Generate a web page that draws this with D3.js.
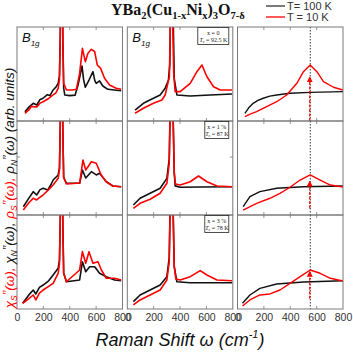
<!DOCTYPE html>
<html>
<head>
<meta charset="utf-8">
<script src="https://cdn.jsdelivr.net/npm/d3@7"></script>
<style>
  body { margin: 0; background: #fff; }
  svg { display: block; }
</style>
</head>
<body>
<svg id="chart" width="353" height="352"></svg>
<script>
// ---- data (x in cm^-1, y in arb. units) ----
const xTicks = [0, 200, 400, 600, 800];
const innerTicks = [200, 400, 600];

// column 1: measured spectra
const exp1_100K = [[60,9.9],[92,15],[123,18.8],[150,17],[175,23],[198,24.2],[230,28],[250,27],[274,33],[295,36],[312,40],[322,48],[328,90],[334,180],[342,180],[348,80],[354,35],[362,27.7],[400,27],[440,27.5],[463,38.3],[493,58.5],[505,44],[518,35.9],[546,43.6],[576,52.5],[590,43],[601,40.1],[626,42.6],[651,37.2],[689,33.7],[740,33],[790,32.2]];
const exp1_10K  = [[60,8.2],[92,12],[110,16],[123,15.2],[150,15],[175,19],[198,20.5],[240,24],[274,27.7],[295,30],[312,34.8],[322,44],[328,90],[334,180],[342,180],[348,85],[354,40],[375,33],[420,33],[450,33.7],[475,50.7],[496,77.3],[518,63.1],[538,72],[564,76.3],[589,73.7],[609,59.6],[634,56],[664,45.4],[702,38.3],[752,34.8],[790,33.7]];
const exp2_100K = [[48,8.8],[90,18],[123,24.8],[149,21.3],[175,27],[198,28.4],[234,26.6],[260,33],[274,37.2],[312,42.6],[322,50],[328,95],[334,180],[342,180],[348,85],[354,40],[375,33.7],[475,33.7],[496,47.9],[521,39.4],[564,46.1],[601,42.6],[626,44.4],[677,35.4],[727,30.9],[790,30.1]];
const exp2_10K  = [[48,5.3],[90,13],[123,17.8],[149,16],[175,19],[198,21.3],[240,27],[274,31.9],[312,39],[322,48],[328,95],[334,180],[342,180],[348,85],[354,40],[375,33],[475,34],[500,58.5],[521,47.9],[564,56.7],[601,55],[638,42.6],[677,35.4],[727,30.9],[790,30.1]];
const exp3_100K = [[43,6.1],[90,15],[123,20.2],[143,16],[170,23],[198,25.5],[240,30],[274,36.2],[312,43.3],[322,52],[328,95],[334,180],[342,180],[348,85],[354,38],[375,29],[475,30.9],[496,50.3],[521,39.7],[551,45],[589,45],[626,38],[677,34.4],[740,30.9],[790,30.1]];
const exp3_10K  = [[43,6.1],[90,11],[123,14.9],[143,9.6],[170,17],[198,20.2],[240,24],[274,27.3],[312,38],[322,48],[328,95],[334,180],[342,180],[348,85],[354,38],[375,29],[475,41.5],[496,61],[521,48.6],[546,61],[576,48.6],[614,50.3],[640,41.5],[677,32.7],[740,32.7],[790,30.9]];

// column 2: spectra with normal-state background
const bg1_100K = [[59,11.7],[122,18.8],[198,24.2],[249,27.7],[287,34.8],[312,43.6],[322,60],[328,120],[334,200],[342,200],[348,110],[356,45],[376,27.7],[477,26.6],[629,27.7],[796,28.7]];
const bg1_10K  = [[59,8.2],[122,13.5],[198,18.8],[262,22.3],[287,27.7],[319,47],[325,90],[331,200],[339,200],[345,100],[352,50],[363,31.2],[401,31.2],[477,40.1],[528,52.5],[566,59.6],[604,47.1],[654,36.5],[705,33],[794,33]];
const bg2_100K = [[46,10.6],[97,17.8],[173,23.1],[249,28.4],[300,39],[318,60],[326,120],[332,200],[342,200],[348,100],[356,45],[363,31],[401,29.5],[553,29.8],[796,30.1]];
const bg2_10K  = [[46,7.1],[97,12.4],[173,16.7],[249,23.1],[300,33.7],[318,55],[326,120],[332,200],[342,200],[348,100],[356,45],[365,33],[401,31.9],[477,35.4],[540,41.5],[604,35.4],[680,30.9],[794,30.1]];
const bg3_100K = [[46,7.8],[97,14.9],[173,20.2],[249,25.5],[300,34.4],[318,55],[326,120],[332,200],[342,200],[348,100],[356,45],[376,29],[477,28],[796,28]];
const bg3_10K  = [[46,4.3],[97,9.6],[173,14.9],[249,20.2],[300,30.9],[318,50],[326,120],[332,200],[342,200],[348,100],[356,45],[368,32],[401,30.9],[477,34.4],[553,40.8],[604,36.2],[680,30.9],[794,30.1]];

// column 3: model curves
const th1_100K = [[56,8.2],[85,14],[119,18.8],[155,22],[195,24.2],[245,26.5],[297,27.7],[398,29.5],[551,30.5],[800,31.2]];
const th1_10K  = [[56,4.6],[100,7.5],[145,9.9],[221,15.2],[297,20.5],[373,27.7],[450,40.1],[500,52.5],[551,59.6],[602,52.5],[652,41.8],[728,35.9],[800,33]];
const th2_100K = [[43,8.8],[94,19.5],[170,24.8],[297,28.4],[500,30.1],[800,30.9]];
const th2_10K  = [[43,5.3],[145,12.4],[246,17.8],[322,23.1],[398,29.5],[475,37.2],[551,42.6],[627,37.2],[704,31.9],[800,29.8]];
const th3_100K = [[38,6.1],[94,14.9],[170,22],[297,26.6],[500,28.7],[800,30.1]];
const th3_10K  = [[38,3.2],[94,9.6],[170,14.9],[246,16],[322,20.2],[398,27.3],[475,34.4],[551,41.5],[627,38],[704,32.7],[800,29.8]];

const gapEnergy = 552;               // dotted line / arrow position
const arrowSpans = [[0, 47], [7, 36], [11, 40]];
const boxLabels = [["x = 0", "92.5 K"], ["x = 1 %", "87 K"], ["x = 3 %", "78 K"]];
const legendLabels = ["T= 100 K", "T = 10 K"];

// ---- layout ----
const colX = [17, 127.3, 237.5], pw = 105.5;
const rowY = [27, 121, 215], ph = 94;
const RED = "#ff0000", BLACK = "#111";

const svg = d3.select("#chart");
const defs = svg.append("defs");
defs.append("marker").attr("id", "arr").attr("viewBox", "0 0 10 10")
  .attr("refX", 9).attr("refY", 5).attr("markerWidth", 5).attr("markerHeight", 6)
  .attr("orient", "auto")
  .append("path").attr("d", "M0,0L10,5L0,10z").attr("fill", RED);

const series = [
  [[exp1_100K, exp1_10K], [bg1_100K, bg1_10K], [th1_100K, th1_10K]],
  [[exp2_100K, exp2_10K], [bg2_100K, bg2_10K], [th2_100K, th2_10K]],
  [[exp3_100K, exp3_10K], [bg3_100K, bg3_10K], [th3_100K, th3_10K]]
];

series.forEach((row, r) => {
  row.forEach((pair, c) => {
    const x = d3.scaleLinear().domain([0, 800]).range([colX[c], colX[c] + pw]);
    const y = d3.scaleLinear().domain([0, 100]).range([rowY[r] + ph, rowY[r]]);
    const id = `clip${r}${c}`;
    defs.append("clipPath").attr("id", id).append("rect")
      .attr("x", colX[c]).attr("y", rowY[r]).attr("width", pw).attr("height", ph);
    const g = svg.append("g");
    const line = d3.line().x(d => x(d[0])).y(d => y(d[1]));
    const plot = g.append("g").attr("clip-path", `url(#${id})`);

    if (c === 2) {
      plot.append("line")
        .attr("x1", x(gapEnergy)).attr("x2", x(gapEnergy))
        .attr("y1", rowY[r]).attr("y2", rowY[r] + ph)
        .attr("stroke", "#222").attr("stroke-width", 0.9).attr("stroke-dasharray", "1.5,1.5");
    }

    const sw = c === 2 ? 1.4 : 1.6;
    plot.append("path").datum(pair[0]).attr("d", line)
      .attr("fill", "none").attr("stroke", BLACK).attr("stroke-width", sw)
      .attr("stroke-linejoin", "round");
    plot.append("path").datum(pair[1]).attr("d", line)
      .attr("fill", "none").attr("stroke", RED).attr("stroke-width", sw)
      .attr("stroke-linejoin", "round");

    if (c === 2) {
      g.append("line")
        .attr("x1", x(gapEnergy - 4)).attr("x2", x(gapEnergy - 4))
        .attr("y1", y(arrowSpans[r][0])).attr("y2", y(arrowSpans[r][1]))
        .attr("stroke", RED).attr("stroke-width", 1.2).attr("stroke-dasharray", "3,1.5")
        .attr("marker-end", "url(#arr)");
    }

    // frame
    g.append("rect").attr("x", colX[c]).attr("y", rowY[r]).attr("width", pw).attr("height", ph)
      .attr("fill", "none").attr("stroke", "#7a7a7a").attr("stroke-width", 1);

    // inward ticks on top and bottom
    g.selectAll(".tk").data(innerTicks).enter().append("path")
      .attr("d", d => `M${x(d)},${rowY[r]}v3M${x(d)},${rowY[r] + ph}v-3`)
      .attr("stroke", "#7a7a7a").attr("stroke-width", 0.8);

    // tick labels on the bottom row
    if (r === 2) {
      const ax = g.append("g").attr("transform", `translate(0,${rowY[r] + ph})`)
        .call(d3.axisBottom(x).tickValues(xTicks).tickSize(0).tickPadding(5).tickFormat(d3.format("d")));
      ax.select(".domain").remove();
      ax.selectAll("text").attr("font-family", "Liberation Sans, Arial, sans-serif")
        .attr("font-size", 10.5).attr("fill", "#333");
    }

    // sample boxes in middle column
    if (c === 1) {
      const bx = g.append("g");
      const w = r === 0 ? 31 : 24, bx0 = colX[c] + pw - w - 4, by0 = rowY[r] + 0.5;
      bx.append("rect").attr("x", bx0).attr("y", by0).attr("width", w).attr("height", 17)
        .attr("fill", "#fff").attr("stroke", "#222").attr("stroke-width", 0.8);
      const t = bx.append("text").attr("font-family", "Liberation Serif, serif")
        .attr("font-size", 6).attr("fill", "#222").attr("text-anchor", "middle");
      t.append("tspan").attr("x", bx0 + w / 2).attr("y", by0 + 7).text(boxLabels[r][0]);
      const t2 = t.append("tspan").attr("x", bx0 + w / 2).attr("y", by0 + 14.5);
      t2.append("tspan").attr("font-style", "italic").text("T");
      t2.append("tspan").attr("font-size", 4).attr("dy", 1).text("c");
      t2.append("tspan").attr("dy", -1).text(" = " + boxLabels[r][1]);
    }

    // B1g labels
    if (r === 0 && c < 2) {
      const t = g.append("text").attr("x", colX[c] + 5).attr("y", rowY[r] + 15)
        .attr("font-family", "Liberation Sans, Arial, sans-serif").attr("font-style", "italic")
        .attr("font-size", 13).attr("fill", "#111");
      t.append("tspan").text("B");
      t.append("tspan").attr("font-size", 8).attr("dy", 4).text("1g");
    }
  });
});

// y tick in the middle row
svg.append("path").attr("d", `M${colX[0]},157h3`).attr("stroke", "#7a7a7a").attr("stroke-width", 0.8);
svg.append("path").attr("d", `M${colX[1] + pw},157h-3`).attr("stroke", "#7a7a7a").attr("stroke-width", 0.8);

// title
const title = svg.append("text").attr("x", 111).attr("y", 15)
  .attr("font-family", "Liberation Serif, Times New Roman, serif").attr("font-weight", "bold")
  .attr("font-size", 16).attr("fill", "#111");
[["YBa", 0], ["2", 1], ["(Cu", 0], ["1-x", 1], ["Ni", 0], ["x", 1], [")", 0], ["3", 1], ["O", 0], ["7-δ", 1]]
  .forEach(([s, sub], i, arr) => {
    const prevSub = i > 0 && arr[i - 1][1];
    const dy = sub && !prevSub ? 4 : (!sub && prevSub ? -4 : 0);
    title.append("tspan").attr("font-size", sub ? 10.5 : 16).attr("dy", dy).text(s);
  });

// legend
legendLabels.forEach((lab, i) => {
  const yy = 6 + i * 11;
  svg.append("line").attr("x1", 266).attr("x2", 285).attr("y1", yy).attr("y2", yy)
    .attr("stroke", i ? RED : "#333").attr("stroke-width", 1.3);
  svg.append("text").attr("x", 287).attr("y", yy + 4)
    .attr("font-family", "Liberation Sans, Arial, sans-serif").attr("font-size", 11)
    .attr("fill", "#333").text(lab);
});

// y label
const yl = svg.append("text").attr("transform", "translate(14,188) rotate(-90)")
  .attr("text-anchor", "middle").attr("font-family", "Liberation Sans, Arial, sans-serif")
  .attr("font-style", "italic").attr("font-size", 13.5);
const part = (sym, sub, color, tail) => {
  yl.append("tspan").attr("fill", color).text(sym);
  yl.append("tspan").attr("fill", color).attr("font-size", 8.5).attr("dy", 2.5).text(sub);
  yl.append("tspan").attr("fill", color).attr("dy", -5).text("\u201D");
  yl.append("tspan").attr("fill", color).attr("dy", 2.5).text(tail);
};
part("χ", "S", RED, "(ω), ");
part("χ", "N", "#111", "(ω), ");
part("ρ", "S", RED, "(ω), ");
part("ρ", "N", "#111", "(ω) (arb. units)");

// x label
const xl = svg.append("text").attr("x", 180).attr("y", 346).attr("text-anchor", "middle")
  .attr("font-family", "Liberation Sans, Arial, sans-serif").attr("font-style", "italic")
  .attr("font-size", 18).attr("fill", "#111");
xl.append("tspan").text("Raman Shift ω (cm");
xl.append("tspan").attr("font-size", 11).attr("dy", -8).text("-1");
xl.append("tspan").attr("dy", 8).text(")");
</script>
</body>
</html>
